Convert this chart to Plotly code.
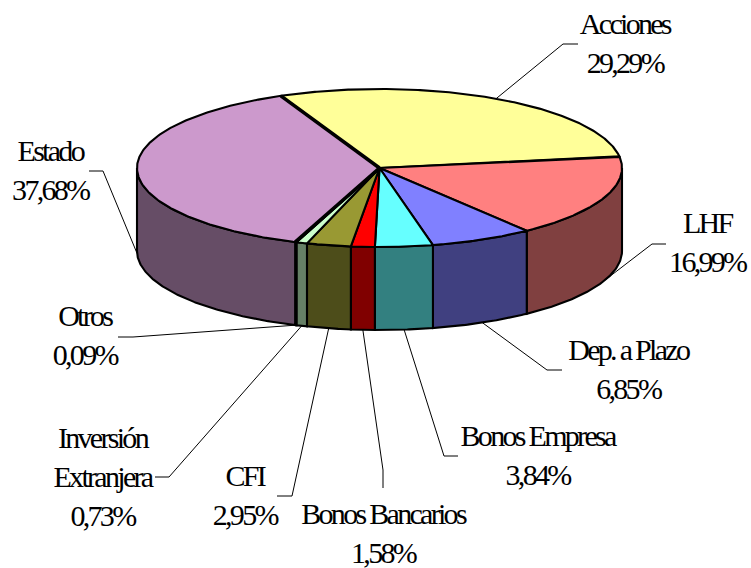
import math
import plotly.graph_objects as go

# ---- data ----
categories = ["Acciones", "LHF", "Dep. a Plazo", "Bonos Empresa", "Bonos Bancarios",
              "CFI", "Inversión<br>Extranjera", "Otros", "Estado"]
values = [29.29, 16.99, 6.85, 3.84, 1.58, 2.95, 0.73, 0.09, 37.68]
value_labels = ["29,29%", "16,99%", "6,85%", "3,84%", "1,58%", "2,95%", "0,73%", "0,09%", "37,68%"]
top_colors = ["#FFFF99", "#FF8080", "#8080FF", "#66FFFF", "#FF0000",
              "#999933", "#CCFFCC", "#99CC99", "#CC99CC"]
wall_colors = ["#80804D", "#804040", "#404080", "#338080", "#800000",
               "#4D4D1A", "#668066", "#4D664D", "#664D66"]

# ---- layout of the drawing (pixel-like axis units) ----
CX, CY, RX, RY, DEPTH = 379.5, 168.0, 242.5, 79.0, 83.0
START_DEG = 114.0
LINE_W = 2.1
FONT_SIZE = 30
SPACING_CSS = ".annotation-text{letter-spacing:-2.7px}"
# label centre x, block centre y
label_pos = [(625, 43), (707, 242), (628, 369), (537, 455), (383, 533),
             (245, 495), (102, 476), (85, 335), (50, 170)]
# leader elbow and end
elbows = [((563, 44), (578, 44)), ((652, 244), (666, 244)), ((547, 370), (562, 370)),
          ((444, 456), (458, 456)), ((383, 470), (383, 488)), ((292, 496), (277, 496)),
          ((169, 477), (155, 477)), ((133, 337), (118, 337)), ((103, 171), (89, 171))]


def pt(deg, drop=0.0):
    a = math.radians(deg)
    return CX + RX * math.cos(a), CY - RY * math.sin(a) + drop


def arc(d0, d1, drop=0.0):
    n = max(2, int(abs(d1 - d0) * 2) + 1)
    return [pt(d0 + (d1 - d0) * i / (n - 1), drop) for i in range(n)]


total = sum(values)
spans = []
cur = START_DEG
for v in values:
    nxt = cur - v / total * 360
    spans.append((cur, nxt))
    cur = nxt

fig = go.Figure()


def poly(points, fill=None, width=LINE_W, color="black"):
    xs = [p[0] for p in points]
    ys = [p[1] for p in points]
    fig.add_trace(go.Scatter(x=xs, y=ys, mode="lines",
                             fill="toself" if fill else "none",
                             fillcolor=fill,
                             line=dict(color=color, width=width),
                             hoverinfo="skip", showlegend=False))


# leader lines
for (d0, d1), (elbow, end) in zip(spans, elbows):
    mid = (d0 + d1) / 2
    front = math.sin(math.radians(mid)) < 0.0 or abs(math.cos(math.radians(mid))) > 0.99
    poly([pt(mid, DEPTH if front else 0.0), elbow, end], width=1)

# side walls (front half only: angles between -180 and 0)
for (d0, d1), wc in zip(spans, wall_colors):
    a0, a1 = d0, d1
    a0 = min(a0, 0.0)
    a1 = max(a1, -180.0)
    if a0 > a1:
        top = arc(a0, a1)
        bottom = arc(a1, a0, DEPTH)
        poly(top + bottom + [top[0]], fill=wc)

# top faces
centre = (CX, CY)
for (d0, d1), tc in zip(spans, top_colors):
    poly([centre] + arc(d0, d1) + [centre], fill=tc)

# heavier radii on both sides of the largest slice
for d in (spans[-1][0], spans[-1][1]):
    poly([centre, pt(d)], width=3.6)

annotations = []
for name, lab, (x, y) in zip(categories, value_labels, label_pos):
    annotations.append(dict(x=x, y=y, xref="x", yref="y", text=f"{name}<br>{lab}",
                            showarrow=False, xanchor="center", yanchor="middle", align="center",
                            font=dict(family="Liberation Serif", size=FONT_SIZE, color="black")))

fig.update_layout(
    width=751, height=568, margin=dict(l=0, r=0, t=0, b=0),
    paper_bgcolor="white", plot_bgcolor="white", showlegend=False,
    xaxis=dict(range=[0, 751], visible=False, fixedrange=True),
    yaxis=dict(range=[568, 0], visible=False, fixedrange=True),
    annotations=annotations,
)

fig.write_html("out.html", config={"displayModeBar": False},
               post_script=f"var s=document.createElement('style');s.textContent='{SPACING_CSS}';"
                           "document.head.appendChild(s);Plotly.relayout(document.getElementsByClassName('plotly-graph-div')[0],{});"
                           "document.body.style.margin='0';")
